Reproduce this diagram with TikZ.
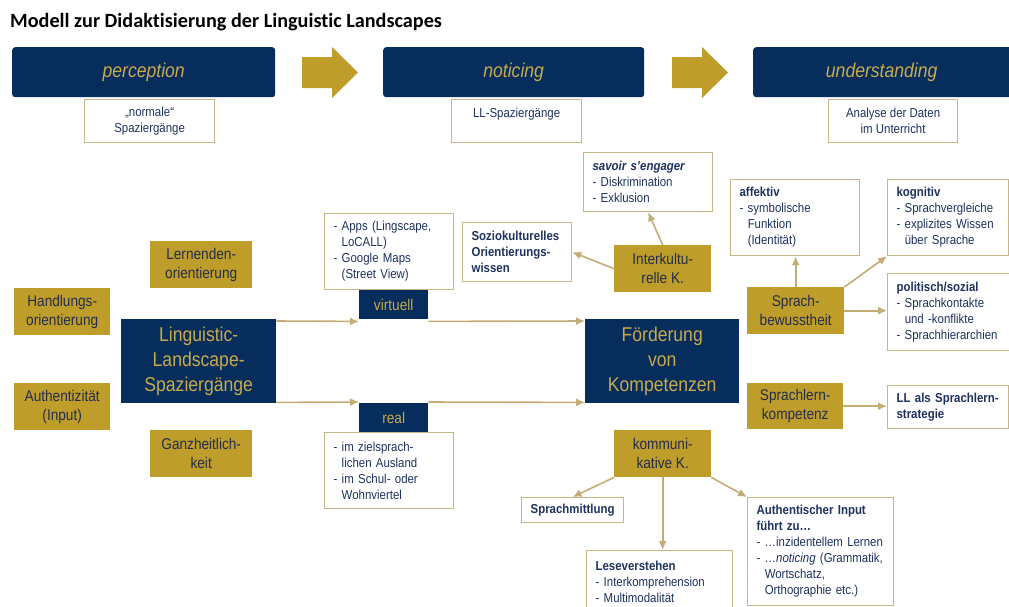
\documentclass[tikz,border=0pt]{standalone}
\usepackage{fontspec}
\setmainfont{Liberation Sans}[FakeStretch=0.88]
\newfontfamily\titlefont{Carlito}[Ligatures=NoCommon]
\usetikzlibrary{arrows.meta}

\definecolor{navy}{RGB}{6,45,92}
\definecolor{gold}{RGB}{191,157,42}
\definecolor{goldtext}{RGB}{200,170,76}
\definecolor{darktext}{RGB}{35,45,75}
\definecolor{bluetext}{RGB}{30,50,95}
\definecolor{boxline}{RGB}{200,180,135}
\definecolor{arrline}{RGB}{196,172,118}

\tikzset{
  nbox/.style={fill=navy, text=goldtext, inner sep=0pt, anchor=north west, align=center},
  gbox/.style={fill=gold, text=darktext, inner sep=0pt, anchor=north west, align=center,
    font=\fontsize{15.5}{19}\selectfont},
  wbox/.style={draw=boxline, line width=1.2pt, fill=white, text=bluetext, anchor=north west,
    align=center, inner sep=0pt, font=\fontsize{13}{16}\selectfont},
  lbox/.style={wbox, align=left, inner xsep=9pt, inner ysep=3pt},
  pfeil/.style={draw=arrline, line width=1.6pt, -{Latex[length=9pt,width=8pt]}},
}

\begin{document}
\begin{tikzpicture}[x=1pt, y=-1pt]
\clip (0,0) rectangle (1009,606);
\fill[white] (0,0) rectangle (1009,606);

% title
\node[anchor=west, inner sep=0pt, font=\titlefont\bfseries\fontsize{20.2}{24}\selectfont] (title) at (10,22)
  {Modell zur Didaktisierung der Linguistic Landscapes};

% phases
\node[nbox, rounded corners=3pt, minimum width=263pt, minimum height=50pt, font=\itshape\fontsize{20}{24}\selectfont] (perc) at (12,47) {perception};
\node[nbox, rounded corners=3pt, minimum width=261pt, minimum height=50pt, font=\itshape\fontsize{20}{24}\selectfont] (noti) at (383,47) {noticing};
\node[nbox, rounded corners=3pt, minimum width=270pt, minimum height=50pt, font=\itshape\fontsize{20}{24}\selectfont] (unde) at (753,47) {\hspace*{-13pt}understanding};

\fill[gold] (302,57) -- (332,57) -- (332,47) -- (358,72.5) -- (332,98) -- (332,88) -- (302,88) -- cycle;
\fill[gold] (672,57) -- (702,57) -- (702,47) -- (728,72.5) -- (702,98) -- (702,88) -- (672,88) -- cycle;

\node[wbox, minimum width=130pt, minimum height=43pt] (norm) at (84,99) {„normale“\\Spaziergänge};
\node[wbox, minimum width=130pt, minimum height=43pt] (llsp) at (451,99) {LL-Spaziergänge\\\mbox{}};
\node[wbox, minimum width=129pt, minimum height=43pt] (anal) at (828,99) {Analyse der Daten\\im Unterricht};

% left side
\node[gbox, minimum width=102pt, minimum height=47pt] (lern) at (150,241) {Lernenden-\\orientierung};
\node[gbox, minimum width=96pt, minimum height=47pt] (hand) at (14,288) {Handlungs-\\orientierung};
\node[gbox, minimum width=96pt, minimum height=47pt] (auth) at (14,383) {Authentizität\\(Input)};
\node[gbox, minimum width=102pt, minimum height=47pt] (ganz) at (150,430) {Ganzheitlich-\\keit};
\node[nbox, minimum width=155pt, minimum height=84pt, font=\fontsize{20}{25}\selectfont] (llsz) at (121,319)
  {Linguistic-\\Landscape-\\Spaziergänge};

\node[lbox, text width=111pt, minimum height=76pt] (apps) at (324,213)
  {- Apps (Lingscape,\\\phantom{- }LoCALL)\\- Google Maps\\\phantom{- }(Street View)};
\node[nbox, minimum width=69pt, minimum height=29pt, font=\fontsize{15.5}{19}\selectfont] (virt) at (359,290) {virtuell};
\node[nbox, minimum width=69pt, minimum height=29pt, font=\fontsize{15.5}{19}\selectfont] (real) at (359,403) {real};
\node[lbox, text width=111pt, minimum height=76pt] (reli) at (324,432)
  {- im zielsprach-\\\phantom{- }lichen Ausland\\- im Schul- oder\\\phantom{- }Wohnviertel};

% middle
\node[nbox, minimum width=154pt, minimum height=84pt, font=\fontsize{20}{25}\selectfont] (foer) at (585,319)
  {Förderung\\von\\Kompetenzen};
\node[lbox, text width=91pt, minimum height=59pt, font=\bfseries\fontsize{13}{16}\selectfont] (sozi) at (462,222)
  {Soziokulturelles\\Orientierungs-\\wissen};
\node[lbox, text width=111pt, minimum height=59pt] (savo) at (583,152)
  {\textbf{\textit{savoir s’engager}}\\- Diskrimination\\- Exklusion};
\node[gbox, minimum width=97pt, minimum height=47pt] (inte) at (614,245) {Interkultu-\\relle K.};

% right side
\node[lbox, text width=111pt, minimum height=76pt] (affe) at (730,179)
  {\textbf{affektiv}\\- symbolische\\\phantom{- }Funktion\\\phantom{- }(Identität)};
\node[lbox, text width=103pt, minimum height=76pt] (kogn) at (887,179)
  {\textbf{kognitiv}\\- Sprachvergleiche\\- explizites Wissen\\\phantom{- }über Sprache};
\node[lbox, text width=108pt, minimum height=77pt] (poli) at (887,273)
  {\textbf{politisch/sozial}\\- Sprachkontakte\\\phantom{- }und -konflikte\\- Sprachhierarchien};
\node[gbox, minimum width=97pt, minimum height=47pt] (spbe) at (747,287) {Sprach-\\bewusstheit};
\node[gbox, minimum width=96pt, minimum height=46pt] (spko) at (747,383) {Sprachlern-\\kompetenz};
\node[lbox, text width=103pt, minimum height=43pt, font=\bfseries\fontsize{13}{16}\selectfont] (stra) at (887,385)
  {LL als Sprachlern-\\strategie};

% bottom
\node[gbox, minimum width=97pt, minimum height=47pt] (komm) at (614,430) {kommuni-\\kative K.};
\node[wbox, minimum width=102pt, minimum height=25pt, font=\bfseries\fontsize{13}{16}\selectfont] (spmi) at (521,497) {Sprachmittlung};
\node[lbox, text width=128pt, minimum height=62pt] (lese) at (586,550)
  {\textbf{Leseverstehen}\\- Interkomprehension\\- Multimodalität};
\node[lbox, text width=128pt, minimum height=108pt] (auin) at (747,497)
  {\textbf{Authentischer Input}\\\textbf{führt zu…}\\- …inzidentellem Lernen\\- …\textit{noticing} (Grammatik,\\\phantom{- }Wortschatz,\\\phantom{- }Orthographie etc.)};

% connectors
\draw[pfeil] ([yshift=-2pt]llsz.north east) -- ([yshift=-2pt]virt.south west);
\draw[pfeil] ([yshift=-2pt]virt.south east) -- ([yshift=-2pt]foer.north west);
\draw[pfeil] ([yshift=1pt]llsz.south east) -- ([yshift=1pt]real.north west);
\draw[pfeil] ([yshift=1pt]real.north east) -- ([yshift=1pt]foer.south west);
\draw[pfeil] (inte.west) -- (sozi.east);
\draw[pfeil] (inte.north) -- (savo.south);
\draw[pfeil] (spbe.north) -- (spbe.north |- affe.south);
\draw[pfeil] (spbe.north east) -- (kogn.south west);
\draw[pfeil] (spbe.east) -- (poli.west |- spbe.east);
\draw[pfeil] (spko.east) -- (stra.west |- spko.east);
\draw[pfeil] (komm.south west) -- (spmi.north);
\draw[pfeil] (komm.south) -- (komm.south |- lese.north);
\draw[pfeil] (komm.south east) -- (auin.north west);
\end{tikzpicture}
\end{document}
